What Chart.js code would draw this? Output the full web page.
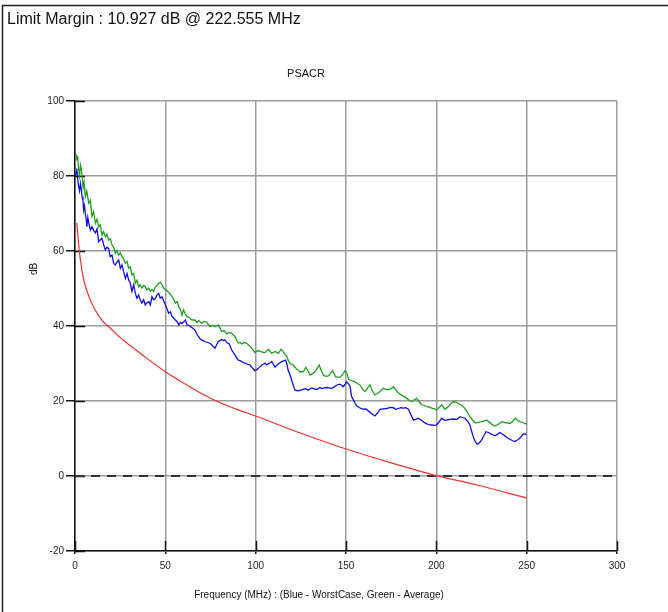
<!DOCTYPE html>
<html>
<head>
<meta charset="utf-8">
<script src="https://cdn.jsdelivr.net/npm/chart.js@4.4.1/dist/chart.umd.min.js"></script>
<style>
html,body{margin:0;padding:0;background:#fff;}
#wrap{width:668px;height:612px;position:relative;}
canvas{display:block;}
</style>
</head>
<body>
<div id="wrap"><canvas id="c" width="668" height="612"></canvas></div>
<script>
// ---- Data ----
const chartTitle = "PSACR";
const headerText = "Limit Margin : 10.927 dB @ 222.555 MHz";
const xAxisTitle = "Frequency (MHz) : (Blue - WorstCase, Green - Average)";
const yAxisTitle = "dB";
const xTicks = [0, 50, 100, 150, 200, 250, 300];
const yTicks = [-20, 0, 20, 40, 60, 80, 100];

const limitFreq = [1, 2, 3, 5, 8, 11, 15, 20, 25, 30, 40, 50, 60, 70, 80, 90, 100, 125, 150, 175, 200, 222.5, 250];
const limitDb   = [67.5, 62, 57.6, 52, 47.5, 44.4, 41.5, 39.2, 36.9, 35, 31.3, 27.8, 24.8, 22, 19.6, 17.7, 16, 11.4, 7.2, 3.5, 0.1, -2.4, -5.9];

const refLineFreq = [0, 300];
const refLineDb = [0, 0];

const averageFreq = [0.5,1,1.5,2,2.5,3,3.5,4,4.5,5,5.7,6.5,7.6,8.5,9.4,10.3,11.3,12.2,13.1,14,14.9,15.8,16.8,17.7,18.6,19.5,20.5,21.4,22.3,23.2,24.2,25.1,26,27,27.9,28.8,29.7,30.6,31.5,32.5,33.4,34.3,35.2,36.1,37,38,38.9,39.8,40.8,41.7,42.6,43.5,44.5,45.4,46.3,47.2,48.2,49,50,51,51.8,52.8,53.7,54.6,55.5,56.5,57.4,58.3,59.2,60.1,61,62,63.4,64.8,66.4,67.5,68.5,70.1,71.5,72.9,74.7,76,77.5,79.3,80.2,81.2,82.5,84,85.3,86.7,88.5,90.4,91.3,92.3,93.5,95,96.5,97.8,99.6,101,102.4,103.8,105.2,107,108.9,110.7,112.6,114,115,116.2,117.2,118,119,120.8,122.5,124.5,126.3,127.8,129,130,131.5,132.8,135.2,136.2,137.4,138.8,140.2,142.6,144.2,146.6,148,149.4,150.3,151.5,152.2,155,157.7,159.6,160.5,162,163.3,164.5,166,167.5,168.8,170.6,172,173.4,175,176.2,177.5,179,181,183.6,185,186.4,188,189.1,190.5,191.9,193.3,194.7,196,197.4,199,200.2,201.5,203,204.8,206.7,208,209.4,210.8,212.2,213.6,215,217,218.6,220,221.4,223,225.1,226.5,227.9,229.5,231,232.5,234.3,236.2,238.5,240.8,242.3,243.7,245,246.3,248,249.6,250];
const averageDb   = [86,84.5,85,81.6,80,83,82,79.5,77,78.5,74.5,76,72.7,73.5,69.2,70.5,67.4,68.5,66.5,67,64.3,65.2,63.8,64.5,62.9,63.3,61.6,61,59.4,60.2,58.9,59.5,58.5,57.8,56.7,57.2,55.4,55.8,53.6,54,51.4,52.2,50.5,51,50.1,50.8,50.5,49.6,50.1,49.3,49.7,49.2,50.5,50.8,51.4,51.7,51,50.2,49.7,49.4,48.9,48.5,47.8,47.2,46.1,46.5,45.2,44.5,42.9,44.3,43.2,42.5,42.2,41.6,41.6,40.9,41.5,40.7,41.2,41,39.8,40.2,39.8,40.3,39.5,38.5,38.8,37.9,38.3,38.1,37.2,35.4,35.6,35.2,35.6,35.4,34.8,34.1,32.9,33.4,33.3,33,32.9,33.8,32.7,33.2,32.7,33.8,33.3,32.5,32,30.9,30,29.6,28.6,27.8,27.8,29,28,26.9,27.3,27.8,29.6,28.2,26.9,26.6,26.7,28.1,26.5,26.3,27,28.1,27.5,25.8,25.6,25.1,24.3,22.9,22.5,23.5,24.3,22.8,21.6,22,22.5,23.4,23.1,23,23.3,23.8,23,22.1,21.5,20.7,20.2,19.8,20.4,20.7,19.8,19,18.8,18.5,18.4,18.1,17.9,17.6,18.3,19,17.8,18.5,19.3,19.8,19.7,19.4,19,18.5,17.2,15.8,15,14.2,14.3,14.5,14.7,14.9,14.3,13.7,13.3,13.8,14.5,14.2,14,14.6,15.4,14.8,14.5,14.2,13.9,14];

const worstFreq = [0.3,0.6,1,1.5,2,2.5,3,3.5,3.9,4.4,4.8,5.3,5.7,6.2,6.6,7.1,7.6,8.5,9.4,10.3,11.3,12.2,13.1,14,14.9,15.9,16.8,17.7,18.6,19.5,20.5,21.4,22.3,23.2,24.2,25.1,26,26.9,27.9,28.8,29.7,30.6,31.5,32.5,33.4,34.3,35.2,36.1,37,38,38.9,39.8,40.8,41.7,42.6,43.5,44.5,45.4,46.3,47.2,48.2,49,50,50.9,51.8,52.8,53.7,54.6,55.5,56.5,57.4,58.3,59.2,60.2,61.1,62,63,64,65.2,66.4,67.3,68.3,69.2,70.1,71,72,73.4,74.7,76,77.5,78.4,79.3,80.2,81.2,82,83,84,85.4,86.7,87.6,88.5,89.5,90.4,91.3,92.2,93.2,94.1,95.5,96.8,98.2,99.6,100.5,101.5,102.4,103.3,104.2,105.2,106.1,107,108,108.9,109.8,110.7,111.7,112.6,113.5,114.4,115.5,116.6,117.3,118,119,119.9,120.8,121.8,122.7,123.6,125,126.3,127.7,129.1,130,131,132.5,134,135.5,136.5,138,139.2,140.6,142,143.3,144.7,146.6,147.5,148.4,149.4,150.4,151.5,152.3,153.1,154.1,155,155.9,157.5,159.6,161,162.5,164,166,167.5,168.8,170.6,172.5,174.3,176.2,177.6,179,180.3,181.7,183,184.5,185.9,187.3,188.6,190,191.9,193.3,194.7,196,197.4,198.8,200.2,201.6,203,204.8,206.2,207.6,209.5,211.3,212.2,213.1,214.5,215.9,217.3,218.6,219.5,220.4,221.5,222.6,223.8,225.1,226.3,227.5,228.8,230,231.2,232.5,233.8,235.1,236.5,237.9,239.3,240.8,242.2,243.5,244.9,246.3,247.3,248.2,249.1,250];
const worstDb   = [80,81.1,82,79,77.2,76,78,76.5,74.5,73.5,70.9,72,70,68.5,66.5,68.9,67.5,65.6,66.5,65.5,64.8,65.9,62.5,63,63.4,61.6,60.3,61,60.7,58.5,58.9,56.7,56.3,57,57.6,55.4,56.3,54.5,52.7,54,52.3,51.4,49.2,51,48.7,47.4,48.3,47,46.1,47,45.6,46.2,46.5,45.6,47.8,47,47.4,48.3,48.7,47.4,47.8,46.8,45.6,44.7,43.4,43.8,42.5,42.2,41.6,41.2,40.3,40.9,40.7,41.1,41.6,40.3,40.2,39.8,39.4,38.9,38,37.2,36.6,36.3,36.1,35.8,35.6,35.4,34.8,34.1,35,35.8,36.1,36.4,36.1,36.3,35.6,35.2,33.6,33,32.3,31.5,30.9,30.8,30.5,30.2,30.1,29.8,29.6,28.8,28.1,28.3,28.7,29.1,29.6,29.8,30.1,29.6,29.9,30.2,30.5,29.8,29,29.5,29.9,30.2,30.5,30.7,30.9,29.8,28.2,27,25.6,24.2,22.9,22.8,22.7,22.9,23.1,23.3,22.9,23.2,23.5,23.2,23.1,23.6,23.3,23.5,23.6,23.5,23.3,23.7,24.2,24.5,24.2,23.8,24.4,25.1,24.5,23.8,21.2,20.3,19.4,18.7,18.2,17.8,17.9,17.3,16.7,16,16.8,17.8,17.9,18,18.3,18.2,17.8,18,18.2,18.1,18.2,17.8,16.4,14.9,15.1,15.4,14.8,14.3,13.9,13.7,13.6,13.5,13.6,14.5,15.4,14.8,15,15.1,15.2,15.1,15.4,15.8,15.6,15.4,14.6,13.6,12,10.5,9.2,8.5,8.8,9.6,10.8,11.8,11.6,11.3,11,10.7,11.1,11.6,11.2,10.7,10.2,9.8,9.4,9.2,9.6,10.1,10.7,11.2,11.2,11];

// ---- helpers ----
const pts = (xs, ys) => xs.map((x, i) => ({x: x, y: ys[i]}));
const FONT = "'Liberation Sans', Arial, sans-serif";

const decorPlugin = {
  id: 'decor',
  beforeDatasetsDraw(chart) {
    const ctx = chart.ctx;
    const xs = chart.scales.x, ys = chart.scales.y;
    const a = chart.chartArea;
    ctx.save();
    ctx.strokeStyle = '#111';
    ctx.lineWidth = 1.5;
    ctx.beginPath();
    yTicks.forEach(v => {
      const py = Math.round(ys.getPixelForValue(v)) + 0.5;
      ctx.moveTo(a.left, py); ctx.lineTo(a.left + 10, py);
    });
    xTicks.forEach(v => {
      const px = Math.round(xs.getPixelForValue(v)) + 0.5;
      ctx.moveTo(px, a.bottom); ctx.lineTo(px, a.bottom - 10);
    });
    ctx.stroke();
    ctx.restore();
  },
  afterDraw(chart) {
    const ctx = chart.ctx;
    ctx.save();
    // outer frame
    ctx.strokeStyle = '#222';
    ctx.lineWidth = 1.5;
    ctx.beginPath();
    ctx.moveTo(2.5, 612); ctx.lineTo(2.5, 5.5); ctx.lineTo(668, 5.5);
    ctx.stroke();
    ctx.fillStyle = '#111';
    ctx.textBaseline = 'alphabetic';
    ctx.font = '16px ' + FONT;
    ctx.textAlign = 'left';
    ctx.fillText(headerText, 7, 24);
    ctx.font = '11px ' + FONT;
    ctx.textAlign = 'center';
    ctx.fillText(chartTitle, 306, 77);
    ctx.font = '10px ' + FONT;
    ctx.fillText(xAxisTitle, 319, 598);
    ctx.translate(37, 269);
    ctx.rotate(-Math.PI / 2);
    ctx.fillText(yAxisTitle, 0, 0);
    ctx.restore();
  }
};

new Chart(document.getElementById('c'), {
  type: 'scatter',
  data: {
    datasets: [
      {label: 'zero', data: pts(refLineFreq, refLineDb), showLine: true, borderColor: '#333', borderWidth: 2, borderDash: [9, 7], pointRadius: 0, order: 4},
      {label: 'Limit', data: pts(limitFreq, limitDb), showLine: true, borderColor: '#ee3030', borderWidth: 1.2, pointRadius: 0, cubicInterpolationMode: 'monotone', order: 3},
      {label: 'WorstCase', data: pts(worstFreq, worstDb), showLine: true, borderColor: '#1010e0', borderWidth: 1.3, pointRadius: 0, tension: 0, order: 2},
      {label: 'Average', data: pts(averageFreq, averageDb), showLine: true, borderColor: '#20a020', borderWidth: 1.3, pointRadius: 0, tension: 0, order: 1}
    ]
  },
  options: {
    responsive: false,
    animation: false,
    devicePixelRatio: 1,
    layout: {padding: {top: 101, right: 51, bottom: 0, left: 0}},
    plugins: {legend: {display: false}, tooltip: {enabled: false}, title: {display: false}},
    scales: {
      x: {
        type: 'linear', min: 0, max: 300,
        afterFit(s) { s.height = 61; },
        afterBuildTicks(s) { s.ticks = xTicks.map(v => ({value: v})); },
        ticks: {font: {family: FONT, size: 10}, color: '#222', padding: 6, maxRotation: 0},
        grid: {color: '#9c9c9c', lineWidth: 1.5, tickColor: '#111', tickLength: 3},
        border: {color: '#111', width: 1.5}
      },
      y: {
        type: 'linear', min: -20, max: 100,
        afterFit(s) { s.width = 75; },
        afterBuildTicks(s) { s.ticks = yTicks.map(v => ({value: v})); },
        ticks: {font: {family: FONT, size: 10}, color: '#222', padding: 2},
        grid: {color: '#9c9c9c', lineWidth: 1.5, tickColor: '#111', tickLength: 9},
        border: {color: '#111', width: 1.5}
      }
    }
  },
  plugins: [decorPlugin]
});
</script>
</body>
</html>
